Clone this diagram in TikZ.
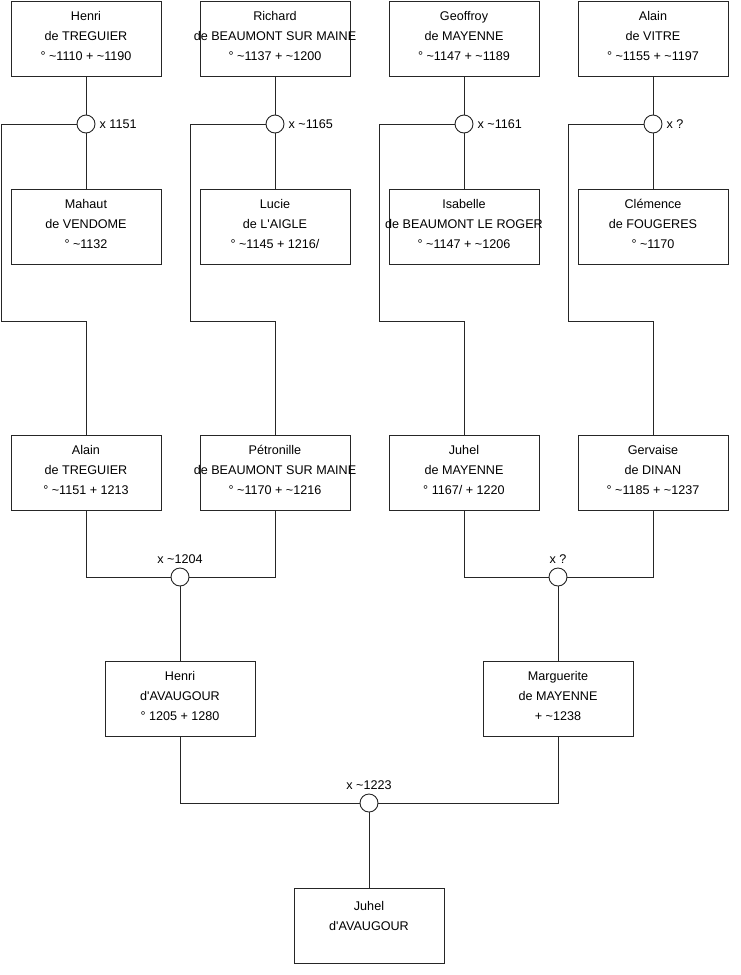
\documentclass[tikz,border=0pt]{standalone}
\usepackage{fontspec}
\setmainfont{Liberation Sans}
\usetikzlibrary{positioning}
\definecolor{ink}{HTML}{262626}
\newcommand{\tld}{\textasciitilde}
\newcommand{\apos}{\textquotesingle}
\tikzset{person/.style={draw=ink,fill=white,line width=0.9pt,align=center,
  minimum width=150pt,minimum height=75pt,inner sep=0pt,text depth=5pt,
  font=\fontsize{12.6}{19.7}\selectfont},
  union/.style={circle,draw=ink,fill=white,line width=0.9pt,
  minimum size=18pt,inner sep=0pt},
  link/.style={draw=ink,line width=0.9pt},
  year/.style={font=\fontsize{12.6}{14}\selectfont,inner sep=4pt}}

\begin{document}
\begin{tikzpicture}[x=1pt,y=-1pt]
\useasboundingbox (0,0) rectangle (740,975);
% grandparents
\node[person] (p1) at (86,38.5){Henri\\de TREGUIER\\° \tld1110 + \tld1190};
\node[person] (p2) at (275,38.5){Richard\\\makebox[0pt]{de BEAUMONT SUR MAINE}\\° \tld1137 + \tld1200};
\node[person] (p3) at (464,38.5){Geoffroy\\de MAYENNE\\° \tld1147 + \tld1189};
\node[person] (p4) at (653,38.5){Alain\\de VITRE\\° \tld1155 + \tld1197};
\node[person] (w1) at (86,226.5){Mahaut\\de VENDOME\\° \tld1132};
\node[person] (w2) at (275,226.5){Lucie\\de L\apos AIGLE\\° \tld1145 + 1216/};
\node[person] (w3) at (464,226.5){Isabelle\\\makebox[0pt]{de BEAUMONT LE ROGER}\\° \tld1147 + \tld1206};
\node[person] (w4) at (653,226.5){Clémence\\de FOUGERES\\° \tld1170};
% parents
\node[person] (c1) at (86,472.5){Alain\\de TREGUIER\\° \tld1151 + 1213};
\node[person] (c2) at (275,472.5){Pétronille\\\makebox[0pt]{de BEAUMONT SUR MAINE}\\° \tld1170 + \tld1216};
\node[person] (c3) at (464,472.5){Juhel\\de MAYENNE\\° 1167/ + 1220};
\node[person] (c4) at (653,472.5){Gervaise\\de DINAN\\° \tld1185 + \tld1237};
\foreach \i/\xl/\txt in {1/1.5/{x 1151},2/190/{x \tld1165},3/379/{x \tld1161},4/568/{x ?}}{
  \node[union] (u\i) at (p\i.center |- 0,124){};
  \node[year,right=0pt of u\i] (l\i){\txt};
  \coordinate (k\i) at (\xl,321);
  \draw[link] (p\i) -- (u\i) -- (w\i);
  \draw[link] (u\i) -| (k\i) -| (c\i);}
% second generation
\node[person] (h1) at (180,698.5){Henri\\d\apos AVAUGOUR\\° 1205 + 1280};
\node[person] (h2) at (558,698.5){Marguerite\\de MAYENNE\\+ \tld1238};
\node[union] (u5) at (180,577){};
\node[year,above=0pt of u5] (l5){x \tld1204};
\node[union] (u6) at (558,577){};
\node[year,above=0pt of u6] (l6){x ?};
\draw[link] (c1) |- (u5);
\draw[link] (c2) |- (u5);
\draw[link] (u5) -- (h1);
\draw[link] (c3) |- (u6);
\draw[link] (c4) |- (u6);
\draw[link] (u6) -- (h2);
% last
\node[person,text depth=0pt] (j) at (369,925.5){Juhel\\d\apos AVAUGOUR\\\mbox{}};
\node[union] (u7) at (369,803){};
\node[year,above=0pt of u7] (l7){x \tld1223};
\draw[link] (h1) |- (u7);
\draw[link] (h2) |- (u7);
\draw[link] (u7) -- (j);
\end{tikzpicture}
\end{document}
